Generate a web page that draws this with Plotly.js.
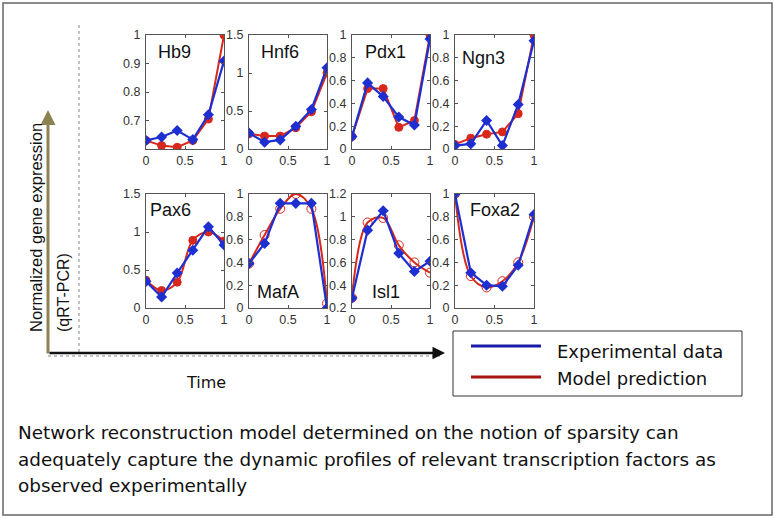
<!DOCTYPE html>
<html><head><meta charset="utf-8">
<script src="https://cdn.plot.ly/plotly-3.0.1.min.js"></script>
<style>html,body{margin:0;padding:0;background:#fff}#c{width:775px;height:518px}</style>
</head><body><div id="c"></div>
<script>
const timePts = [0, 0.2, 0.4, 0.6, 0.8, 1];
const genes = ["Hb9","Hnf6","Pdx1","Ngn3","Pax6","MafA","Isl1","Foxa2"];
const expHb9  = [0.630,0.642,0.665,0.633,0.720,0.909];
const modHb9  = [0.630,0.612,0.606,0.630,0.705,1.000];
const expHnf6 = [0.21,0.09,0.12,0.30,0.52,1.07];
const modHnf6 = [0.20,0.17,0.17,0.28,0.49,1.00];
const expPdx1 = [0.11,0.58,0.46,0.28,0.21,0.965];
const modPdx1 = [0.11,0.53,0.53,0.19,0.25,1.00];
const expNgn3 = [0.03,0.045,0.25,0.03,0.39,0.95];
const modNgn3 = [0.04,0.095,0.13,0.15,0.31,1.00];
const expPax6 = [0.35,0.145,0.46,0.76,1.07,0.83];
const modPax6 = [0.365,0.23,0.34,0.89,1.00,0.88];
const expMafA = [0.39,0.566,0.918,0.918,0.918,0.0];
const modMafA = [0.39,0.64,0.87,1.00,0.87,0.04];
const expIsl1 = [0.288,0.883,1.053,0.68,0.52,0.61];
const modIsl1 = [0.29,0.95,0.99,0.75,0.60,0.51];
const expFoxa2 = [1.00,0.31,0.20,0.19,0.376,0.82];
const modFoxa2 = [1.00,0.28,0.18,0.235,0.40,0.80];
const expSeries = [expHb9,expHnf6,expPdx1,expNgn3,expPax6,expMafA,expIsl1,expFoxa2];
const modSeries = [modHb9,modHnf6,modPdx1,modNgn3,modPax6,modMafA,modIsl1,modFoxa2];
const yRanges = [[0.6,1],[0,1.5],[0,1],[0,1],[0,1.5],[0,1],[0.2,1.2],[0,1]];
const yTicks = [[0.7,0.8,0.9,1],[0,0.5,1,1.5],[0,0.2,0.4,0.6,0.8,1],[0,0.2,0.4,0.6,0.8,1],
                [0,0.5,1,1.5],[0,0.2,0.4,0.6,0.8,1],[0.2,0.4,0.6,0.8,1,1.2],[0,0.2,0.4,0.6,0.8,1]];
const xTicks = [0,0.5,1];
const legendLabels = ["Experimental data","Model prediction"];
const yLabel = "Normalized gene expression";
const yLabel2 = "(qRT-PCR)";
const xLabel = "Time";
const caption = ["Network reconstruction model determined on the notion of sparsity can",
                 "adequately capture the dynamic profiles of relevant transcription factors as",
                 "observed experimentally"];

const W = 775, H = 518;
const colsPx = [[146,224],[249,327],[352,430],[455,534]];
const rowsPx = [[35,149],[194,308]];
const namePos = [[156,52],[259,52],[363,52],[460,58],
                 [148,210],[255,292],[370,292],[468,210]];
const BLUE = '#1e2fd2', RED = '#d8281c';
const px = v => v / W, py = v => 1 - v / H;
const ARIAL = 'Arial, Liberation Sans, sans-serif', GOTH = 'DejaVu Sans, sans-serif';

const data = [], layout = {
  width: W, height: H, margin: {l:0,r:0,t:0,b:0}, showlegend:false,
  paper_bgcolor:'#fff', plot_bgcolor:'#fff', shapes:[], annotations:[],
  font:{family:ARIAL}
};
genes.forEach((g,i)=>{
  const r = Math.floor(i/4), c = i%4, n = i+1;
  const xa = 'x'+(n===1?'':n), ya = 'y'+(n===1?'':n);
  const xk = 'xaxis'+(n===1?'':n), yk = 'yaxis'+(n===1?'':n);
  const openRed = r===1 && i!==4;
  data.push({x:timePts, y:modSeries[i], xaxis:xa, yaxis:ya, type:'scatter', mode:'lines+markers',
    line:{color:RED, width:2, shape: r===1 ? 'spline':'linear'},
    marker:{symbol: openRed ? 'circle-open':'circle', size: openRed?9:8, color:RED, line:{color:RED,width:1}}});
  data.push({x:timePts, y:expSeries[i], xaxis:xa, yaxis:ya, type:'scatter', mode:'lines+markers',
    line:{color:BLUE, width:2.2},
    marker:{symbol:'diamond', size:8.5, color:BLUE}});
  const axCommon = {showline:true, linecolor:'#555', linewidth:1, mirror:'ticks', ticks:'inside',
    ticklen:3, tickcolor:'#555', showgrid:false, zeroline:false,
    tickfont:{size:12.5, color:'#333', family:ARIAL}};
  layout[xk] = Object.assign({}, axCommon, {domain:[px(colsPx[c][0]), px(colsPx[c][1])], range:[0,1],
    tickvals:xTicks, ticktext:xTicks.map(String), anchor:ya});
  layout[yk] = Object.assign({}, axCommon, {domain:[py(rowsPx[r][1]), py(rowsPx[r][0])], range:yRanges[i],
    tickvals:yTicks[i], ticktext:yTicks[i].map(String), anchor:xa, ticklabelstandoff:2});
  layout.annotations.push({xref:'paper', yref:'paper', x:px(namePos[i][0]), y:py(namePos[i][1]),
    xanchor:'left', yanchor:'middle', text:g, showarrow:false,
    font:{size:18, color:'#111', family:ARIAL}});
});

// outer frame
layout.shapes.push({type:'rect', xref:'paper', yref:'paper', x0:px(3), x1:px(772), y0:py(515), y1:py(3),
  line:{color:'#666', width:1.5}});
// dotted guide lines
layout.shapes.push({type:'line', xref:'paper', yref:'paper', x0:px(79), x1:px(79), y0:py(25), y1:py(352),
  line:{color:'#888', width:1, dash:'dot'}});
layout.shapes.push({type:'line', xref:'paper', yref:'paper', x0:px(48), x1:px(440), y0:py(356), y1:py(356),
  line:{color:'#888', width:1, dash:'dot'}});
// arrows
layout.annotations.push({xref:'paper', yref:'paper', x:px(48), y:py(110), ax:0, ay:245, text:'',
  showarrow:true, arrowhead:2, arrowsize:1, arrowwidth:3, arrowcolor:'#8c8250'});
layout.annotations.push({xref:'paper', yref:'paper', x:px(445), y:py(353), ax:-397, ay:0, text:'',
  showarrow:true, arrowhead:2, arrowsize:1, arrowwidth:2.5, arrowcolor:'#111'});
// axis labels
layout.annotations.push({xref:'paper', yref:'paper', x:px(36), y:py(228), xanchor:'center', yanchor:'middle',
  text:yLabel, textangle:-90, showarrow:false, font:{size:16.5, color:'#111', family:ARIAL}});
layout.annotations.push({xref:'paper', yref:'paper', x:px(63), y:py(292), xanchor:'center', yanchor:'middle',
  text:yLabel2, textangle:-90, showarrow:false, font:{size:16, color:'#111', family:ARIAL}});
layout.annotations.push({xref:'paper', yref:'paper', x:px(206), y:py(382), xanchor:'center', yanchor:'middle',
  text:xLabel, showarrow:false, font:{size:16, color:'#111', family:GOTH}});
// legend box
layout.shapes.push({type:'rect', xref:'paper', yref:'paper', x0:px(453), x1:px(742), y0:py(396), y1:py(331),
  line:{color:'#333', width:1}, fillcolor:'#fff'});
layout.shapes.push({type:'line', xref:'paper', yref:'paper', x0:px(471), x1:px(541), y0:py(346), y1:py(346),
  line:{color:'#1a1aa8', width:3}});
layout.shapes.push({type:'line', xref:'paper', yref:'paper', x0:px(471), x1:px(541), y0:py(377), y1:py(377),
  line:{color:'#a81414', width:3}});
layout.annotations.push({xref:'paper', yref:'paper', x:px(555), y:py(351), xanchor:'left', yanchor:'middle',
  text:legendLabels[0], showarrow:false, font:{size:18, color:'#111', family:GOTH}});
layout.annotations.push({xref:'paper', yref:'paper', x:px(555), y:py(378), xanchor:'left', yanchor:'middle',
  text:legendLabels[1], showarrow:false, font:{size:18, color:'#111', family:GOTH}});
// caption
const capY = [432, 459, 485];
caption.forEach((t,k)=>layout.annotations.push({xref:'paper', yref:'paper', x:px(16), y:py(capY[k]),
  xanchor:'left', yanchor:'middle', text:t, showarrow:false,
  font:{size:18.4, color:'#111', family:GOTH}}));

Plotly.newPlot('c', data, layout, {staticPlot:true, displayModeBar:false});
</script></body></html>
